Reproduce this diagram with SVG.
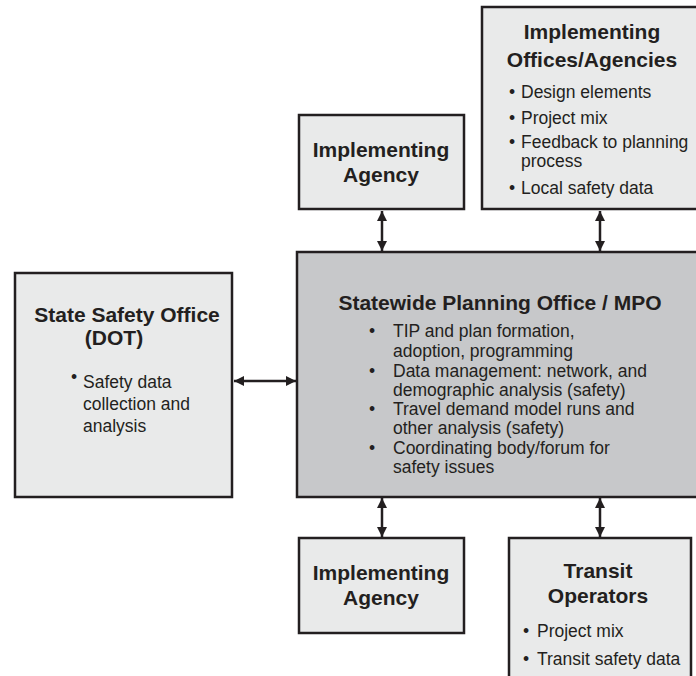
<svg xmlns="http://www.w3.org/2000/svg" width="696" height="676" viewBox="0 0 696 676">
<style>
.box{fill:#e9eaea;stroke:#231f20;stroke-width:2.5}
.main{fill:#c7c8ca;stroke:#231f20;stroke-width:2.5}
.t{font-family:"Liberation Sans",Arial,sans-serif;font-weight:bold;font-size:21px;fill:#231f20;text-anchor:middle}
.b{font-family:"Liberation Sans",Arial,sans-serif;font-size:17.5px;fill:#231f20}
.c{stroke:#231f20;stroke-width:2.5;fill:none;marker-start:url(#ah);marker-end:url(#ah)}
</style>
<defs>
<marker id="ah" viewBox="0 0 10 10" refX="10" refY="5" markerWidth="4" markerHeight="4" orient="auto-start-reverse" markerUnits="strokeWidth">
<path d="M0,0 L10,5 L0,10 z" fill="#231f20"/>
</marker>
</defs>
<rect width="696" height="676" fill="#ffffff"/>
<g id="connectors">
<line class="c" x1="382" y1="211" x2="382" y2="251"/>
<line class="c" x1="600" y1="211" x2="600" y2="251"/>
<line class="c" x1="234" y1="381" x2="296" y2="381"/>
<line class="c" x1="382" y1="498" x2="382" y2="537"/>
<line class="c" x1="600" y1="498" x2="600" y2="537"/>
</g>
<g id="offices">
<rect class="box" x="482" y="7" width="230" height="202"/>
<text class="t" x="592" y="39">Implementing</text>
<text class="t" x="592" y="67">Offices/Agencies</text>
<text class="b" x="509" y="98">•</text><text class="b" x="521" y="98">Design elements</text>
<text class="b" x="509" y="124">•</text><text class="b" x="521" y="124">Project mix</text>
<text class="b" x="509" y="148">•</text><text class="b" x="521" y="148">Feedback to planning</text>
<text class="b" x="521" y="167">process</text>
<text class="b" x="509" y="194">•</text><text class="b" x="521" y="194">Local safety data</text>
</g>
<g id="agency-top">
<rect class="box" x="299" y="115" width="165" height="94"/>
<text class="t" x="381" y="157">Implementing</text>
<text class="t" x="381" y="182">Agency</text>
</g>
<g id="state-safety">
<rect class="box" x="15" y="273" width="217" height="224"/>
<text class="t" x="127" y="322">State Safety Office</text>
<text class="t" x="114" y="345">(DOT)</text>
<text class="b" x="71" y="383" font-size="14">•</text>
<text class="b" x="83" y="388">Safety data</text>
<text class="b" x="83" y="410">collection and</text>
<text class="b" x="83" y="432">analysis</text>
</g>
<g id="planning">
<rect class="main" x="297" y="252" width="420" height="245"/>
<text class="t" x="500" y="310">Statewide Planning Office / MPO</text>
<text class="b" x="369" y="337">•</text><text class="b" x="393" y="337">TIP and plan formation,</text>
<text class="b" x="393" y="357">adoption, programming</text>
<text class="b" x="369" y="377">•</text><text class="b" x="393" y="377">Data management: network, and</text>
<text class="b" x="393" y="396">demographic analysis (safety)</text>
<text class="b" x="369" y="415">•</text><text class="b" x="393" y="415">Travel demand model runs and</text>
<text class="b" x="393" y="434">other analysis (safety)</text>
<text class="b" x="369" y="454">•</text><text class="b" x="393" y="454">Coordinating body/forum for</text>
<text class="b" x="393" y="473">safety issues</text>
</g>
<g id="agency-bottom">
<rect class="box" x="299" y="538" width="165" height="95"/>
<text class="t" x="381" y="580">Implementing</text>
<text class="t" x="381" y="605">Agency</text>
</g>
<g id="transit">
<rect class="box" x="509" y="538" width="182" height="150"/>
<text class="t" x="598" y="578">Transit</text>
<text class="t" x="598" y="603">Operators</text>
<text class="b" x="523" y="637">•</text><text class="b" x="537" y="637">Project mix</text>
<text class="b" x="523" y="665">•</text><text class="b" x="537" y="665">Transit safety data</text>
</g>
</svg>
